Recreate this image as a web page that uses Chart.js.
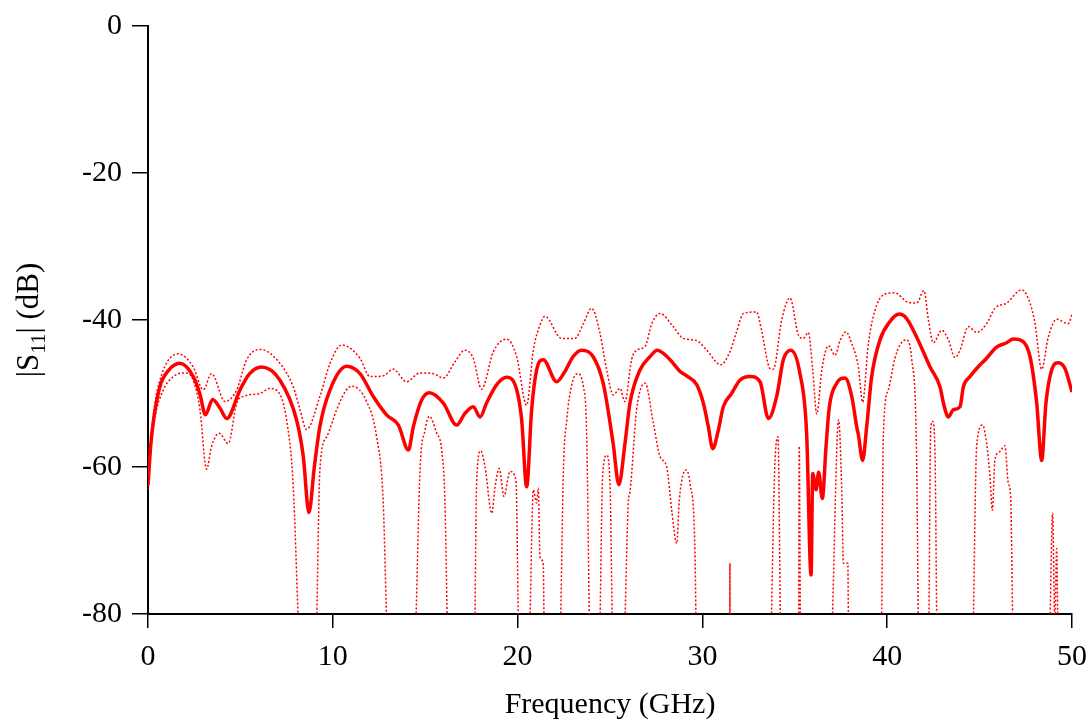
<!DOCTYPE html>
<html lang="en">
<head>
    <meta charset="UTF-8">
    <title>S11 vs frequency</title>
    <script src="https://cdn.jsdelivr.net/npm/chart.js"></script>
    <style>
        body { margin: 0; background: #fff; }
        canvas { display: block; }
    </style>
</head>
<body>
<canvas id="myChart" width="1091" height="723"></canvas>

<script>
    // frequency (GHz) / |S11| (dB)
    const meanFreq = [0.0, 0.15, 0.3, 0.65, 1.1, 1.73, 2.45, 2.8, 3.11, 3.5, 3.9, 4.26, 4.98, 5.5, 6.15, 7.14, 8.04, 8.4, 8.71, 9.0,
        9.3, 9.85, 10.75, 11.47, 12.19, 12.91, 13.55, 14.09, 14.36, 14.81, 15.22, 15.98, 16.7, 17.15, 17.6, 17.97, 18.32, 18.87, 19.41, 19.95,
        20.22, 20.49, 20.76, 21.03, 21.39, 22.11, 22.56, 23.0, 23.46, 24.09, 24.63, 25.17, 25.48, 25.81, 26.08, 26.62, 27.16, 27.56, 28.25, 28.79,
        29.15, 29.69, 30.05, 30.32, 30.56, 30.86, 31.13, 31.58, 32.03, 32.58, 33.12, 33.57, 34.02, 34.38, 34.78, 35.28, 35.64, 35.88, 35.97, 36.15,
        36.29, 36.49, 36.69, 36.87, 37.27, 37.72, 38.08, 38.35, 38.44, 38.67, 38.89, 39.16, 39.61, 40.15, 40.65, 41.05, 41.59, 42.32, 42.86, 43.07,
        43.31, 43.58, 43.94, 44.12, 44.48, 44.84, 45.38, 45.92, 46.46, 46.82, 47.28, 47.73, 48.09, 48.36, 48.59, 48.9, 49.26, 49.62, 50.0];
    const meanDb = [-62.5, -57.0, -53.6, -49.0, -46.9, -45.9, -47.7, -50.0, -52.9, -50.8, -52.0, -53.4, -49.5, -47.3, -46.4, -48.2, -53.6, -58.5, -66.2, -60.0,
        -54.5, -49.5, -46.3, -47.3, -50.4, -52.9, -54.3, -57.7, -54.5, -50.9, -49.9, -51.3, -54.3, -52.7, -51.8, -53.2, -51.3, -48.8, -47.8, -49.5,
        -53.6, -62.7, -52.2, -46.8, -45.4, -48.4, -47.0, -45.0, -44.1, -45.0, -48.6, -56.8, -62.4, -56.8, -51.3, -46.8, -45.0, -44.1, -45.4, -47.0,
        -47.6, -48.8, -51.3, -54.5, -57.5, -55.0, -51.8, -50.0, -48.2, -47.7, -48.4, -53.4, -50.4, -45.4, -44.1, -47.3, -55.4, -74.7, -60.9, -63.1,
        -60.7, -64.3, -57.2, -51.8, -48.6, -47.9, -50.4, -54.5, -55.6, -59.1, -54.5, -47.7, -42.7, -40.2, -39.2, -39.8, -42.3, -46.4, -49.1, -51.6,
        -53.2, -52.2, -51.8, -49.1, -47.7, -46.6, -45.2, -43.7, -43.1, -42.6, -42.8, -45.0, -51.3, -59.1, -51.3, -46.8, -45.8, -46.6, -49.8];

    const upperFreq = [0.0, 0.15, 0.38, 0.83, 1.64, 2.45, 2.99, 3.44, 4.17, 4.8, 5.34, 6.06, 7.14, 7.86, 8.23, 8.58, 9.3, 9.85, 10.48, 11.47,
        12.01, 12.73, 13.27, 13.99, 14.72, 15.44, 15.98, 16.61, 17.15, 17.6, 18.05, 18.69, 19.41, 19.95, 20.49, 20.85, 21.21, 21.48, 22.38, 23.1,
        23.56, 24.0, 24.46, 24.82, 25.18, 25.54, 25.81, 26.17, 26.44, 26.9, 27.26, 27.71, 28.42, 28.97, 29.69, 30.23, 31.0, 31.49, 31.85, 32.22,
        32.93, 33.2, 33.66, 33.84, 34.29, 34.74, 35.19, 35.46, 35.73, 35.97, 36.19, 36.46, 36.82, 37.18, 37.45, 37.77, 38.08, 38.44, 38.67, 38.98,
        39.43, 39.97, 40.42, 41.05, 41.59, 41.99, 42.23, 42.5, 42.95, 43.31, 43.67, 43.94, 44.39, 44.84, 45.38, 45.83, 46.46, 47.28, 47.73, 48.0,
        48.36, 48.72, 49.17, 49.8, 50.0];
    const upperDb = [-62.7, -56.5, -51.3, -46.8, -44.6, -46.4, -49.5, -47.3, -51.1, -49.5, -45.4, -44.0, -45.9, -49.1, -52.2, -54.9, -50.4, -45.9, -43.4, -45.2,
        -47.7, -47.6, -46.7, -48.4, -47.2, -47.3, -47.9, -45.7, -44.1, -45.2, -49.4, -44.3, -42.6, -45.0, -51.6, -44.1, -40.7, -39.5, -42.5, -42.5,
        -40.5, -38.4, -41.8, -46.8, -50.2, -49.3, -51.1, -45.4, -44.1, -43.6, -40.5, -39.1, -40.9, -42.5, -42.8, -44.1, -46.1, -44.3, -41.6, -39.1,
        -38.9, -41.4, -46.6, -46.7, -40.0, -37.0, -42.0, -42.5, -41.7, -46.8, -52.8, -46.8, -43.5, -44.8, -42.8, -41.6, -43.2, -46.4, -51.2, -43.2,
        -38.0, -36.4, -36.3, -37.5, -37.7, -36.0, -40.0, -43.1, -41.4, -42.7, -45.1, -44.1, -40.9, -41.7, -40.5, -38.4, -37.7, -35.9, -37.7, -40.5,
        -46.7, -42.3, -39.9, -40.5, -39.2];

    // lower bound drops below the axis in many places: -81 marks where it leaves, null is the gap
    const lowerFreq = [0.0, 0.15, 0.38, 0.83, 1.37, 2.0, 2.45, 2.81, 3.17, 3.44, 3.85, 4.34, 4.8, 5.16, 6.06, 6.6, 7.05, 7.5, 7.86, 8.13, 8.6,
        9.13, 9.3, 9.67, 10.21, 10.66, 11.02, 11.83, 12.37, 12.73, 12.91, 13.7,
        14.5, 14.72, 14.99, 15.22, 15.62, 15.89, 16.07, 16.19, 16.9,
        17.69, 17.78, 18.0, 18.24, 18.6, 18.78, 19.01, 19.26, 19.59, 19.91, 20.04, 20.3,
        20.67, 20.85, 21.03, 21.12, 21.21, 21.39, 21.43, 21.9,
        22.33, 22.48, 22.66, 22.93, 23.25, 23.56, 23.74, 23.88, 24.2,
        24.46, 24.6, 24.82, 25.0, 25.12, 25.5,
        25.81, 25.99, 26.08, 26.44, 26.9, 27.35, 27.71, 28.07, 28.34, 28.61, 28.75, 29.11, 29.33, 29.6, 29.65, 30.5,
        31.48, 31.49, 31.5, 32.6,
        33.73, 33.91, 34.09, 34.22, 34.7,
        35.21, 35.24, 35.3, 36.2,
        37.03, 37.37, 37.54, 37.63, 37.87, 37.9, 38.8,
        39.7, 39.79, 40.06, 40.42, 40.69, 41.02, 41.33, 41.59, 41.68, 41.9,
        42.26, 42.35, 42.46, 42.59, 42.68, 43.6,
        44.66, 44.84, 45.16, 45.38, 45.56, 45.69, 45.83, 46.1, 46.37, 46.55, 46.68, 46.79, 47.8,
        48.81, 48.95, 49.07, 49.17, 49.23];
    const lowerDb = [-63.1, -57.5, -53.2, -49.5, -47.7, -47.2, -48.2, -52.2, -60.3, -57.2, -55.4, -56.8, -51.3, -50.4, -50.0, -49.3, -49.8, -53.6, -62.7, -81, null,
        -81, -60.4, -55.9, -52.2, -49.8, -49.0, -51.1, -55.9, -64.9, -81, null,
        -81, -60.4, -55.0, -53.1, -55.4, -57.7, -64.9, -81, null,
        -81, -62.2, -57.8, -60.0, -66.3, -62.7, -60.2, -64.0, -60.6, -61.8, -81, null,
        -81, -63.1, -64.9, -62.9, -72.2, -73.3, -81, null,
        -81, -60.4, -53.6, -48.8, -47.3, -49.1, -55.9, -81, null,
        -81, -61.3, -58.4, -62.2, -81, null,
        -81, -64.9, -63.4, -52.2, -48.6, -54.1, -58.6, -60.0, -65.9, -70.4, -64.5, -60.4, -62.2, -71.7, -81, null,
        -81, -73.1, -81, null,
        -81, -60.4, -55.9, -81, null,
        -81, -57.2, -81, null,
        -81, -53.6, -63.1, -73.1, -73.1, -81, null,
        -81, -55.9, -49.5, -45.2, -43.4, -42.7, -45.4, -58.6, -81, null,
        -81, -55.0, -53.8, -58.6, -81, null,
        -81, -57.2, -54.3, -56.8, -61.3, -65.9, -59.0, -57.9, -57.1, -62.2, -64.0, -81, null,
        -81, -66.3, -81, -71.1, -81];

    const xTicks = [0, 10, 20, 30, 40, 50];
    const yTicks = [0, -20, -40, -60, -80];

    const toPoints = (xs, ys) => xs.map((x, i) => ({x: x, y: ys[i]}));

    const FONT = '"Liberation Serif", "Times New Roman", serif';

    // y title needs a subscript, so it is drawn by hand
    const yTitlePlugin = {
        id: 'yTitle',
        afterDraw(chart) {
            const ctx = chart.ctx;
            const area = chart.chartArea;
            const big = 31, small = 21;
            ctx.save();
            ctx.fillStyle = '#000';
            ctx.textBaseline = 'alphabetic';
            const a = '|S', c = '| (dB)';
            ctx.font = small + 'px ' + FONT;
            const wb = ctx.measureText('11').width;
            ctx.font = big + 'px ' + FONT;
            const wa = ctx.measureText(a).width, wc = ctx.measureText(c).width;
            const total = wa + wb + wc;
            ctx.translate(38, (area.top + area.bottom) / 2);
            ctx.rotate(-Math.PI / 2);
            let x = -total / 2;
            ctx.fillText(a, x, 0);
            x += wa;
            ctx.font = small + 'px ' + FONT;
            ctx.fillText('11', x, 7);
            x += wb;
            ctx.font = big + 'px ' + FONT;
            ctx.fillText(c, x, 0);
            ctx.restore();
        }
    };

    const ctx = document.getElementById('myChart').getContext('2d');
    new Chart(ctx, {
        type: 'scatter',
        data: {
            datasets: [{
                label: 'mean',
                data: toPoints(meanFreq, meanDb),
                showLine: true,
                borderColor: '#ff0000',
                borderWidth: 3.5,
                pointRadius: 0,
                cubicInterpolationMode: 'monotone'
            }, {
                label: 'upper',
                data: toPoints(upperFreq, upperDb),
                showLine: true,
                borderColor: '#ff0000',
                borderWidth: 1.5,
                borderDash: [2, 2],
                pointRadius: 0,
                cubicInterpolationMode: 'monotone'
            }, {
                label: 'lower',
                data: toPoints(lowerFreq, lowerDb),
                showLine: true,
                spanGaps: false,
                borderColor: '#ff0000',
                borderWidth: 1.5,
                borderDash: [2, 2],
                pointRadius: 0,
                cubicInterpolationMode: 'monotone'
            }]
        },
        options: {
            responsive: false,
            animation: false,
            layout: {padding: 0},
            plugins: {legend: {display: false}, tooltip: {enabled: false}},
            scales: {
                x: {
                    type: 'linear',
                    min: 0,
                    max: 50,
                    afterBuildTicks: s => { s.ticks = xTicks.map(v => ({value: v})); },
                    afterFit: s => { s.height = 109; s.paddingLeft = 0; s.paddingRight = 19; },
                    border: {color: '#000', width: 2},
                    grid: {drawOnChartArea: false, drawTicks: true, tickLength: 14, color: '#000', lineWidth: 1.5},
                    ticks: {color: '#000', font: {family: FONT, size: 30}, padding: 11, maxRotation: 0},
                    title: {display: true, text: 'Frequency (GHz)', color: '#000', font: {family: FONT, size: 30}, padding: {top: 0, bottom: 0}}
                },
                y: {
                    type: 'linear',
                    min: -80,
                    max: 0,
                    afterBuildTicks: s => { s.ticks = yTicks.map(v => ({value: v})); },
                    afterFit: s => { s.width = 148; s.paddingTop = 26; s.paddingBottom = 0; },
                    border: {color: '#000', width: 2},
                    grid: {drawOnChartArea: false, drawTicks: true, tickLength: 16, color: '#000', lineWidth: 1.5},
                    ticks: {color: '#000', font: {family: FONT, size: 30}, padding: 10}
                }
            }
        },
        plugins: [yTitlePlugin]
    });
</script>
</body>
</html>
